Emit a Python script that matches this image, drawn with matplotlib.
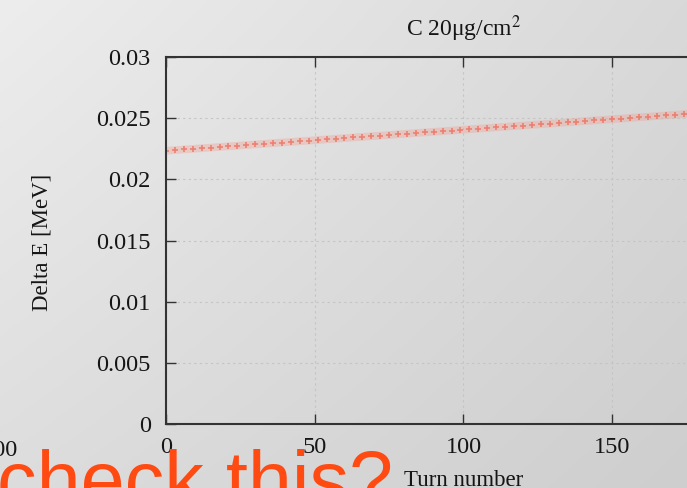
import numpy as np
import matplotlib
matplotlib.use("Agg")
import matplotlib.pyplot as plt

# energy loss per turn, carbon foil 20 ug/cm2
turns = list(range(0, 199, 3))
delta_e = [
    0.022340, 0.022392, 0.022443, 0.022495, 0.022546, 0.022598, 0.022650, 0.022701,
    0.022753, 0.022804, 0.022856, 0.022908, 0.022959, 0.023011, 0.023062, 0.023114,
    0.023166, 0.023217, 0.023269, 0.023320, 0.023372, 0.023424, 0.023475, 0.023527,
    0.023578, 0.023630, 0.023682, 0.023733, 0.023785, 0.023836, 0.023888, 0.023940,
    0.023991, 0.024043, 0.024094, 0.024146, 0.024198, 0.024249, 0.024301, 0.024352,
    0.024404, 0.024456, 0.024507, 0.024559, 0.024610, 0.024662, 0.024714, 0.024765,
    0.024817, 0.024868, 0.024920, 0.024972, 0.025023, 0.025075, 0.025126, 0.025178,
    0.025230, 0.025281, 0.025333, 0.025384, 0.025436, 0.025488, 0.025539, 0.025591,
    0.025642, 0.025694, 0.025746,
]
xticks = [0, 50, 100, 150, 200]
yticks = [0, 0.005, 0.01, 0.015, 0.02, 0.025, 0.03]
ytick_labels = ["0", "0.005", "0.01", "0.015", "0.02", "0.025", "0.03"]

plt.rcParams["font.family"] = ["Liberation Serif", "DejaVu Serif"]
plt.rcParams["mathtext.fontset"] = "stix"

fig = plt.figure(figsize=(6.87, 4.88), dpi=100)

# slide background, light grey fading to the lower right
bg = fig.add_axes([0, 0, 1, 1], zorder=-10)
tl, tr, bl, br = 237, 217, 221, 206
u = np.linspace(0, 1, 200)[None, :]
v = np.linspace(0, 1, 200)[:, None]
g = (tl * (1 - u) * (1 - v) + tr * u * (1 - v) + bl * (1 - u) * v + br * u * v) / 255.0
bg.imshow(np.dstack([g, g, g]), aspect="auto", extent=[0, 1, 0, 1])
bg.axis("off")

ax = fig.add_axes([0.2416, 0.1311, 0.866, 0.752])
ax.set_facecolor("none")
ax.plot(turns, delta_e, color="#f2a295", lw=5.5, alpha=0.4, solid_capstyle="butt")
ax.plot(turns, delta_e, ls="none", marker="+", ms=5, mew=1.2, color="#ec6a58", alpha=0.75)

ax.set_xlim(0, 200)
ax.set_ylim(0, 0.03)
ax.set_xticks(xticks)
ax.set_yticks(yticks)
ax.set_yticklabels(ytick_labels)
ax.tick_params(direction="in", length=7, width=1, color="#333333", top=True, right=True,
               labelsize=17.5, labelcolor="#151515")
ax.tick_params(axis="y", pad=11)
ax.tick_params(axis="x", pad=9)
ax.grid(True, ls=(0, (2, 3)), color="#c4c4c4", lw=0.8)
for s in ax.spines.values():
    s.set_color("#333333")
    s.set_linewidth(1.5)

ax.set_xlabel("Turn number", fontsize=16.5, color="#151515")
ax.xaxis.set_label_coords(0.5, -0.125)
ax.set_ylabel("Delta E [MeV]", fontsize=16.5, color="#151515")
ax.yaxis.set_label_coords(-0.19, 0.496)
ax.text(0.5, 1.077, "C 20μg/cm$^2$", transform=ax.transAxes, ha="center", va="center",
        fontsize=17, color="#151515")

# leftover tick label of the neighbouring plot
fig.text(18 / 687, 1 - 450 / 488, "200", ha="right", va="center", fontsize=17.5, color="#151515")

fig.text(-3 / 687, (488 - 507) / 488, "check this?", family=["Liberation Sans", "DejaVu Sans"],
         fontsize=57, color="#ff4a12", ha="left", va="baseline")

fig.savefig("out.png", dpi=100)
